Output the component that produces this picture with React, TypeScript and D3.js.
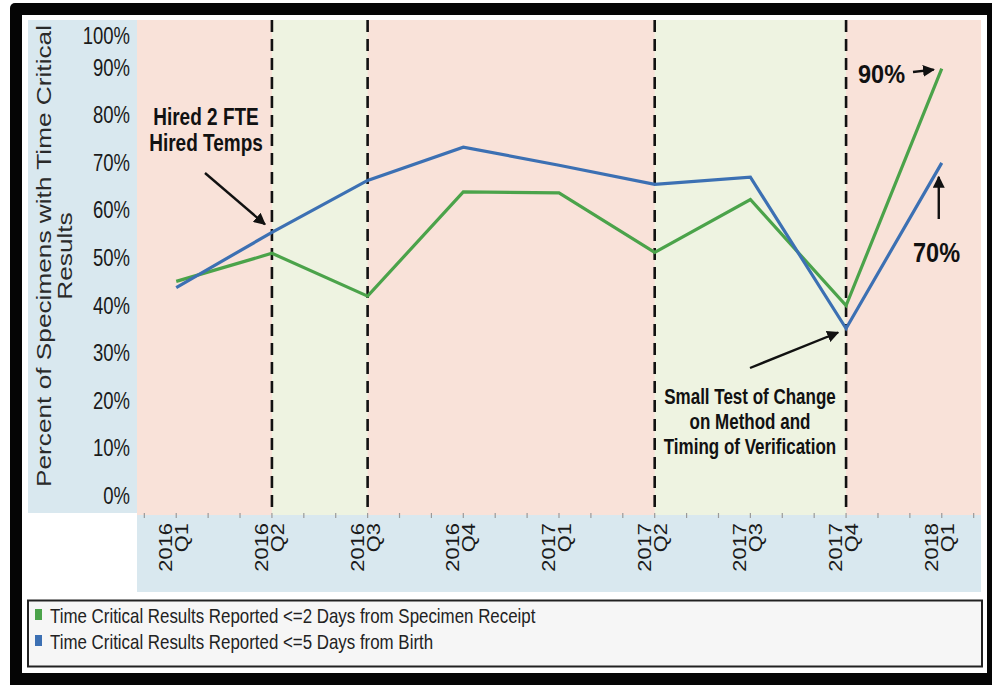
import React from 'react';
import * as d3 from 'd3';

const categories = ['2016 Q1', '2016 Q2', '2016 Q3', '2016 Q4', '2017 Q1', '2017 Q2', '2017 Q3', '2017 Q4', '2018 Q1'];
const yearLabels = ['2016', '2016', '2016', '2016', '2017', '2017', '2017', '2017', '2018'];
const quarterLabels = ['Q1', 'Q2', 'Q3', 'Q4', 'Q1', 'Q2', 'Q3', 'Q4', 'Q1'];
const receiptSeries = [45.3, 51.2, 42.2, 64.1, 63.9, 51.4, 62.5, 40.2, 90.0];
const birthSeries = [44.0, 55.6, 66.5, 73.5, 69.7, 65.7, 67.2, 35.4, 70.2];
const yTicks = [0, 10, 20, 30, 40, 50, 60, 70, 80, 90, 100];
const dividerCategories = ['2016 Q2', '2016 Q3', '2017 Q2', '2017 Q4'];
const greenBands: [string, string][] = [['2016 Q2', '2016 Q3'], ['2017 Q2', '2017 Q4']];
const legendLabels = [
  'Time Critical Results Reported <=2 Days from Specimen Receipt',
  'Time Critical Results Reported <=5 Days from Birth',
];
const yTitleLines = ['Percent of Specimens with Time Critical', 'Results'];
const hiredLines = ['Hired 2 FTE', 'Hired Temps'];
const testLines = ['Small Test of Change', 'on Method and', 'Timing of Verification'];

const FONT = '"Liberation Sans", Arial, Helvetica, sans-serif';
const GREEN = '#4ba34a';
const BLUE = '#3c70b3';
const PINK = '#f9e2d9';
const BAND_GREEN = '#eef3e1';
const AXIS_BLUE = '#d9e8ef';

const L = 137, R = 981, T = 20, B = 515;

type STProps = {
  x: number; y: number; k?: number; size: number; weight?: string | number;
  anchor?: 'start' | 'middle' | 'end'; rotate?: boolean; fill?: string; children: React.ReactNode;
};
function SText({ x, y, k = 1.25, size, weight = 'normal', anchor = 'start', rotate = false, fill = '#1a1a1a', children }: STProps) {
  const t = rotate
    ? `translate(${x},${y}) rotate(-90) scale(${k},1)`
    : `translate(${x},${y}) scale(1,${k})`;
  return (
    <text transform={t} fontSize={size} fontWeight={weight} textAnchor={anchor} fill={fill} fontFamily={FONT}>
      {children}
    </text>
  );
}

export default function App() {
  const x = d3.scalePoint<string>().domain(categories).range([L, R]).padding(0.41);
  const y = d3.scaleLinear().domain([0, 100]).range([497, 21]);
  const step = x.step();
  const x0 = x(categories[0]) as number;

  const line = d3.line<number>()
    .x((_, i) => x(categories[i]) as number)
    .y((d) => y(d));

  const minorTicks = d3.range(-3, 3 * categories.length + 3)
    .map((i) => x0 + (i * step) / 3)
    .filter((p) => p >= L && p <= R);

  const px = (c: string) => x(c) as number;
  const last = categories.length - 1;

  return (
    <svg width={992} height={685} style={{ position: 'absolute', left: 0, top: 0, background: '#fff' }}>
      <defs>
        <marker id="ah" viewBox="0 0 10 10" refX="9" refY="5" markerWidth="5" markerHeight="5" orient="auto-start-reverse">
          <path d="M0,0 L10,5 L0,10 z" fill="#111" />
        </marker>
      </defs>
      {/* frame */}
      <rect x={10} y={3} width={990} height={690} rx={5} fill="#050505" />
      <rect x={22} y={15} width={965} height={658} fill="#ffffff" />

      {/* y-axis panel and x-axis band */}
      <rect x={28} y={T} width={L - 28} height={513 - T} fill={AXIS_BLUE} />
      <rect x={L} y={B} width={R - L} height={592 - B} fill={AXIS_BLUE} />

      {/* plot background */}
      <rect x={L} y={T} width={R - L} height={B - T} fill={PINK} />
      {greenBands.map(([a, b], i) => (
        <rect key={i} x={px(a)} y={T} width={px(b) - px(a)} height={B - T} fill={BAND_GREEN} />
      ))}

      {/* minor ticks */}
      {minorTicks.map((p, i) => (
        <line key={i} x1={p} x2={p} y1={513} y2={518} stroke="#9a9a9a" strokeWidth={1.2} />
      ))}

      {/* dashed dividers */}
      {dividerCategories.map((c) => (
        <line key={c} x1={px(c)} x2={px(c)} y1={T} y2={B - 1} stroke="#111" strokeWidth={2.6} strokeDasharray="12 7" />
      ))}

      {/* series */}
      <path d={line(receiptSeries) || ''} fill="none" stroke={GREEN} strokeWidth={3.2} strokeLinejoin="miter" />
      <path d={line(birthSeries) || ''} fill="none" stroke={BLUE} strokeWidth={3.2} strokeLinejoin="miter" />

      {/* y tick labels */}
      {yTicks.map((v) => (
        <SText key={v} x={130} y={Math.max(y(v), y(100) + 16) + 7} size={18.5} anchor="end" k={1.25}>
          {`${v}%`}
        </SText>
      ))}

      {/* y title */}
      {yTitleLines.map((s, i) => (
        <SText key={s} x={51 + i * 21} y={256} size={20.5} anchor="middle" rotate k={1.28} fill="#2a2a2a">
          {s}
        </SText>
      ))}

      {/* x labels */}
      {categories.map((c, i) => (
        <g key={c}>
          <SText x={px(c) - 4} y={523} size={17.5} anchor="end" rotate k={1.25}>{yearLabels[i]}</SText>
          <SText x={px(c) + 12} y={523} size={17.5} anchor="end" rotate k={1.25}>{quarterLabels[i]}</SText>
        </g>
      ))}

      {/* annotations */}
      {hiredLines.map((s, i) => (
        <SText key={s} x={206} y={125 + i * 26} size={19} weight="bold" anchor="middle" k={1.22} fill="#111">{s}</SText>
      ))}
      <line x1={205} y1={173} x2={px(categories[1]) - 7} y2={y(birthSeries[1]) - 8} stroke="#111" strokeWidth={2.4} markerEnd="url(#ah)" />

      {testLines.map((s, i) => (
        <SText key={s} x={750} y={404 + i * 25} size={17} weight="bold" anchor="middle" k={1.3} fill="#111">{s}</SText>
      ))}
      <line x1={750} y1={368} x2={px(categories[7]) - 8} y2={y(birthSeries[7]) + 4} stroke="#111" strokeWidth={2.4} markerEnd="url(#ah)" />

      <SText x={858} y={83} size={23.5} weight="bold" k={1.12} fill="#111">90%</SText>
      <line x1={913} y1={72} x2={px(categories[last]) - 8} y2={y(receiptSeries[last]) + 1} stroke="#111" strokeWidth={2.4} markerEnd="url(#ah)" />

      <SText x={913} y={262} size={23.5} weight="bold" k={1.15} fill="#111">70%</SText>
      <line x1={px(categories[last]) - 3} y1={219} x2={px(categories[last]) - 3} y2={y(birthSeries[last]) + 14} stroke="#111" strokeWidth={2.4} markerEnd="url(#ah)" />

      {/* legend */}
      <rect x={28} y={600.5} width={954} height={66} fill="#f6f6f6" stroke="#222" strokeWidth={2} />
      {legendLabels.map((s, i) => (
        <g key={s}>
          <rect x={35} y={609 + i * 26} width={7} height={11} fill={i === 0 ? GREEN : BLUE} />
          <SText x={50} y={623 + i * 26} size={16.9} k={1.24} fill="#222">{s}</SText>
        </g>
      ))}
    </svg>
  );
}
